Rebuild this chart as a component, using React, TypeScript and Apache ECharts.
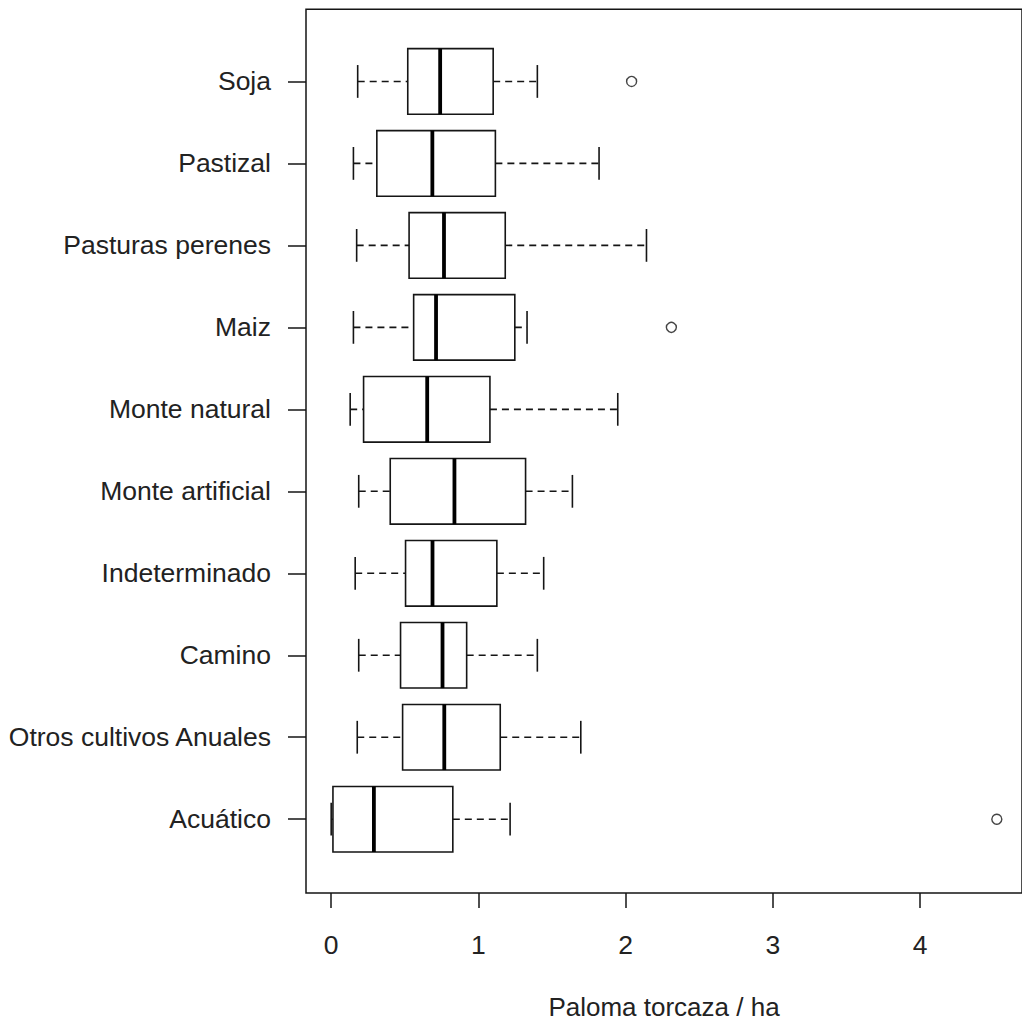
import React, { useEffect, useRef } from "react";
import * as echarts from "echarts";

// Categories listed bottom -> top (R horizontal boxplot order)
const categories = [
  "Acuático",
  "Otros cultivos Anuales",
  "Camino",
  "Indeterminado",
  "Monte artificial",
  "Monte natural",
  "Maiz",
  "Pasturas perenes",
  "Pastizal",
  "Soja",
];
const whiskerLow = [0.0, 0.177, 0.187, 0.163, 0.187, 0.129, 0.151, 0.173, 0.151, 0.18];
const q1 = [0.012, 0.485, 0.471, 0.505, 0.401, 0.22, 0.56, 0.529, 0.31, 0.52];
const median = [0.29, 0.768, 0.756, 0.688, 0.837, 0.652, 0.712, 0.766, 0.687, 0.74];
const q3 = [0.826, 1.148, 0.92, 1.125, 1.32, 1.078, 1.247, 1.182, 1.115, 1.1];
const whiskerHigh = [1.215, 1.695, 1.4, 1.443, 1.638, 1.946, 1.33, 2.141, 1.819, 1.4];
const outlierCategory = ["Acuático", "Maiz", "Soja"];
const outlierValue = [4.52, 2.31, 2.04];
const xTickValues = [0, 1, 2, 3, 4];
const xAxisTitle = "Paloma torcaza / ha";

const INK = "#151515";
const FONT = "'Liberation Sans', Arial, sans-serif";

export default function App() {
  const ref = useRef<HTMLDivElement>(null);

  useEffect(() => {
    if (!ref.current) return;
    const chart = echarts.init(ref.current, null, { renderer: "svg" });
    const positions = categories.map((_, i) => i + 1);
    const boxData = categories.map((_, i) => [
      positions[i],
      whiskerLow[i],
      q1[i],
      median[i],
      q3[i],
      whiskerHigh[i],
    ]);
    const outlierData = outlierCategory.map((c, k) => [
      outlierValue[k],
      categories.indexOf(c) + 1,
    ]);

    chart.setOption({
      animation: false,
      backgroundColor: "#ffffff",
      grid: {
        left: 306,
        top: 9.3,
        width: 725,
        height: 887.4,
        show: true,
        borderColor: INK,
        borderWidth: 1.5,
        backgroundColor: "transparent",
      },
      xAxis: {
        type: "value",
        min: -0.171,
        max: 4.691,
        axisLine: { show: false, onZero: false },
        splitLine: { show: false },
        axisTick: {
          show: true,
          length: 15,
          customValues: xTickValues,
          lineStyle: { color: INK, width: 1.5 },
        },
        axisLabel: {
          customValues: xTickValues,
          margin: 38,
          fontSize: 26.5,
          color: "#222",
          fontFamily: FONT,
          formatter: (v: number) => String(v),
        },
        name: xAxisTitle,
        nameLocation: "middle",
        nameGap: 101,
        nameTextStyle: { fontSize: 26, color: "#222", fontFamily: FONT },
      },
      yAxis: {
        type: "value",
        min: 0.1,
        max: 10.88,
        axisLine: { show: false, onZero: false },
        splitLine: { show: false },
        axisTick: {
          show: true,
          length: 18,
          customValues: positions,
          lineStyle: { color: INK, width: 1.5 },
        },
        axisLabel: {
          customValues: positions,
          margin: 35,
          fontSize: 26.5,
          color: "#222",
          fontFamily: FONT,
          formatter: (v: number) => categories[Math.round(v) - 1] ?? "",
        },
      },
      series: [
        {
          type: "custom",
          data: boxData,
          encode: { x: [1, 2, 3, 4, 5], y: [0] },
          renderItem: (params: any, api: any) => {
            const pos = api.value(0);
            const lo = api.coord([api.value(1), pos]);
            const b1 = api.coord([api.value(2), pos]);
            const md = api.coord([api.value(3), pos]);
            const b3 = api.coord([api.value(4), pos]);
            const hi = api.coord([api.value(5), pos]);
            const band = api.size([0, 1])[1];
            const hb = band * 0.4;
            const hc = band * 0.2;
            const y = lo[1];
            const dashed = { stroke: INK, lineWidth: 1.6, lineDash: [7, 5], fill: null };
            const solid = { stroke: INK, lineWidth: 1.6, fill: null };
            return {
              type: "group",
              children: [
                { type: "line", shape: { x1: lo[0], y1: y, x2: b1[0], y2: y }, style: dashed },
                { type: "line", shape: { x1: b3[0], y1: y, x2: hi[0], y2: y }, style: dashed },
                { type: "line", shape: { x1: lo[0], y1: y - hc, x2: lo[0], y2: y + hc }, style: solid },
                { type: "line", shape: { x1: hi[0], y1: y - hc, x2: hi[0], y2: y + hc }, style: solid },
                {
                  type: "rect",
                  shape: { x: b1[0], y: y - hb, width: b3[0] - b1[0], height: 2 * hb },
                  style: { fill: "#ffffff", stroke: INK, lineWidth: 1.6 },
                },
                {
                  type: "line",
                  shape: { x1: md[0], y1: y - hb, x2: md[0], y2: y + hb },
                  style: { stroke: "#000", lineWidth: 3.8 },
                },
              ],
            };
          },
        },
        {
          type: "scatter",
          data: outlierData,
          symbol: "circle",
          symbolSize: 10,
          itemStyle: { color: "#ffffff", borderColor: INK, borderWidth: 1.4 },
        },
      ],
    });

    return () => chart.dispose();
  }, []);

  return (
    <div
      ref={ref}
      style={{ position: "fixed", left: 0, top: 0, width: 1022, height: 1025, background: "#fff" }}
    />
  );
}
